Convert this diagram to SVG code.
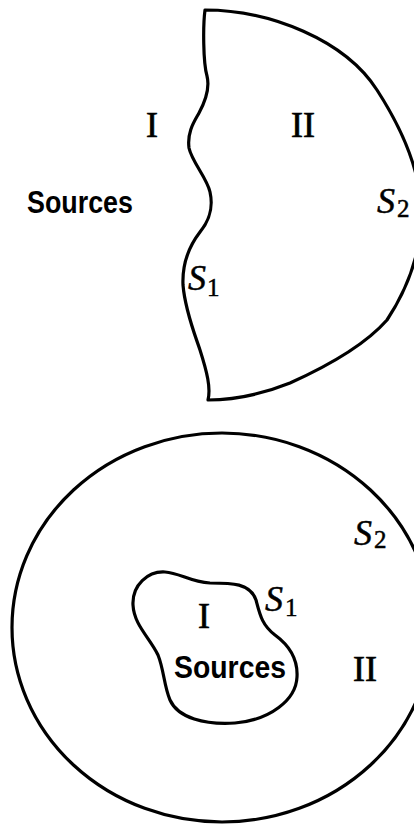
<svg xmlns="http://www.w3.org/2000/svg" width="414" height="825" viewBox="0 0 414 825">
<style>
.line{fill:none;stroke:#000;stroke-width:3.2;stroke-linejoin:round;stroke-linecap:round}
.rom{font-family:"Liberation Serif",serif;font-size:36px;fill:#000;stroke:#000;stroke-width:0.7}
.it{font-family:"Liberation Serif",serif;font-size:36px;font-style:italic;fill:#000;stroke:#000;stroke-width:0.5}
.sub{font-style:normal;font-size:25px}
.sans{font-family:"Liberation Sans",Arial,sans-serif;font-size:31px;font-weight:bold;fill:#000}
</style>
<rect width="414" height="825" fill="#fff"/>
<g id="top-figure">
<path class="line" d="M205,10 C270,10 345,40 377,90 C397,121 420,165 421,210 C422,250 410,285 387,320 C365,345 330,365 290,383 C260,395 230,400 208,400 C211,388 207,372 200,350 C195,335 185,310 183,285 C182,262 190,245 200,232 C208,222 214,210 210,192 C207,178 192,162 189,148 C187,132 194,122 199,113 C206,100 210,88 207,76 C203,62 203,25 205,10 Z"/>
<text class="rom" x="152" y="137" text-anchor="middle">I</text>
<text class="rom" x="303" y="137" text-anchor="middle">II</text>
<text class="sans" x="27" y="213" textLength="106" lengthAdjust="spacingAndGlyphs">Sources</text>
<text class="it" x="188" y="290">S<tspan class="sub" x="207" y="296">1</tspan></text>
<text class="it" x="377" y="213">S<tspan class="sub" x="397" y="217">2</tspan></text>
</g>
<g id="bottom-figure">
<ellipse class="line" cx="222" cy="627.5" rx="210" ry="194.5"/>
<path class="line" d="M133,605 C132,585 148,571 165,572 C180,573 190,582 210,583 C232,583 250,583 256,600 C260,615 262,625 275,635 C290,646 298,660 297,677 C296,700 270,720 235,723 C205,725 178,718 170,700 C164,686 164,670 158,655 C150,638 134,625 133,605 Z"/>
<text class="rom" x="204" y="628" text-anchor="middle">I</text>
<text class="sans" x="174" y="678" textLength="112" lengthAdjust="spacingAndGlyphs">Sources</text>
<text class="rom" x="365" y="681" text-anchor="middle">II</text>
<text class="it" x="265" y="611">S<tspan class="sub" x="285" y="616">1</tspan></text>
<text class="it" x="354" y="545">S<tspan class="sub" x="374" y="548">2</tspan></text>
</g>
</svg>
